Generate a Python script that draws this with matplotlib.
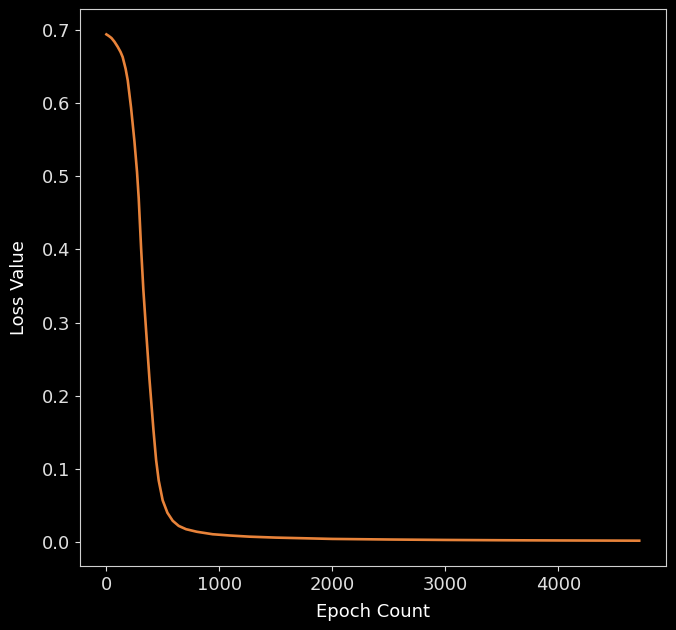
import matplotlib
matplotlib.use("Agg")
import matplotlib.pyplot as plt

plt.style.use("dark_background")
plt.rcParams["font.size"] = 13

epochs = [0, 20, 45, 71, 100, 125, 144, 170, 189, 218, 248, 271, 286, 307,
          327, 351, 381, 416, 440, 463, 498, 540, 587, 640, 705, 800, 941,
          1100, 1265, 1500, 2000, 2500, 3000, 3500, 4000, 4717]
loss = [0.694, 0.692, 0.689, 0.684, 0.677, 0.670, 0.663, 0.647, 0.631, 0.594,
        0.548, 0.506, 0.470, 0.402, 0.345, 0.290, 0.223, 0.154, 0.112, 0.084,
        0.057, 0.040, 0.029, 0.022, 0.0175, 0.014, 0.0106, 0.0088, 0.0073,
        0.006, 0.0042, 0.0034, 0.0028, 0.0024, 0.0021, 0.0018]

fig = plt.figure(figsize=(6.76, 6.30), dpi=100)
ax = fig.add_axes([0.118, 0.1016, 0.867, 0.884])
ax.plot(epochs, loss, color="#e8833a", linewidth=1.9)
ax.set_xlabel("Epoch Count", labelpad=7)
ax.set_ylabel("Loss Value", labelpad=10)
ax.set_xticks([0, 1000, 2000, 3000, 4000])
ax.set_yticks([0.0, 0.1, 0.2, 0.3, 0.4, 0.5, 0.6, 0.7])
for s in ax.spines.values():
    s.set_color("#d0d0d0")
ax.tick_params(colors="#e0e0e0")
fig.savefig("out.png", dpi=100)
